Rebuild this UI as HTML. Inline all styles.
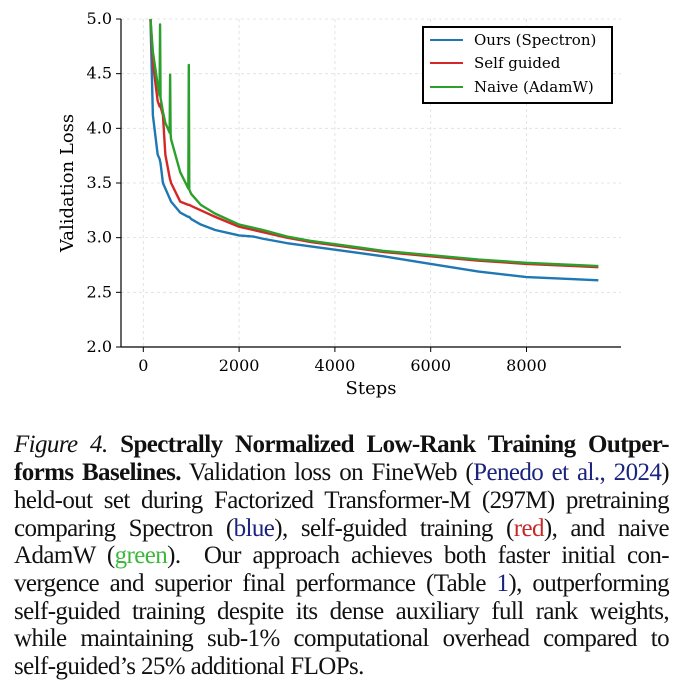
<!DOCTYPE html>
<html><head><meta charset="utf-8"><style>
body{margin:0;background:#fff;width:684px;height:686px;overflow:hidden;position:relative}
svg text{font-family:"DejaVu Serif",serif}
.cap{position:absolute;left:14px;width:655px;font-family:"Liberation Serif",serif;font-size:25px;letter-spacing:-0.6px;line-height:28px;text-align:justify;text-align-last:justify;white-space:nowrap;color:#111}
</style></head><body>
<svg width="684" height="410" style="position:absolute;left:0;top:0">
<g id="grid"></g><g id="series"></g><g id="axes"></g>
<g>
<rect x="423" y="27" width="189" height="76" fill="#fff" stroke="#000" stroke-width="2"/>
<line x1="430" y1="40" x2="463" y2="40" stroke="#1f77b4" stroke-width="2"/><text x="474" y="45" font-size="15">Ours (Spectron)</text>
<line x1="430" y1="63" x2="463" y2="63" stroke="#d62728" stroke-width="2"/><text x="474" y="68" font-size="15">Self guided</text>
<line x1="430" y1="87" x2="463" y2="87" stroke="#2ca02c" stroke-width="2"/><text x="474" y="92" font-size="15">Naive (AdamW)</text>
</g>
</svg>
<div class="cap" style="top:431px"><i>Figure 4.</i> <b>Spectrally Normalized Low-Rank Training Outper-</b></div>
<div class="cap" style="top:459px"><b>forms Baselines.</b> Validation loss on FineWeb (<span style="color:#1a237e">Penedo et al., 2024</span>)</div>
<div class="cap" style="top:487px">held-out set during Factorized Transformer-M (297M) pretraining</div>
<div class="cap" style="top:515px">comparing Spectron (<span style="color:#1a237e">blue</span>), self-guided training (<span style="color:#c62828">red</span>), and naive</div>
<div class="cap" style="top:542px">AdamW (<span style="color:#3cb83c">green</span>).&nbsp; Our approach achieves both faster initial con-</div>
<div class="cap" style="top:570px">vergence and superior final performance (Table <span style="color:#1a237e">1</span>), outperforming</div>
<div class="cap" style="top:598px">self-guided training despite its dense auxiliary full rank weights,</div>
<div class="cap" style="top:625px">while maintaining sub-1% computational overhead compared to</div>
<div class="cap" style="top:653px;text-align-last:left">self-guided’s 25% additional FLOPs.</div>
<script>
const steps=[150,200,300,340,350,360,410,460,550,560,570,580,770,940,950,960,1000,1200,1500,2000,2300,2500,3000,3500,4000,4500,5000,6000,7000,8000,9000,9500];
const blue=[5.0,4.12,3.76,3.72,3.7,3.68,3.5,3.45,3.36,3.35,3.34,3.33,3.23,3.19,3.19,3.19,3.17,3.12,3.07,3.02,3.01,2.99,2.95,2.92,2.89,2.86,2.83,2.76,2.69,2.64,2.62,2.61];
const red=[5.0,4.6,4.25,4.2,4.22,4.2,4.12,3.76,3.55,3.53,3.52,3.5,3.33,3.3,3.3,3.3,3.29,3.25,3.19,3.1,3.07,3.05,3.0,2.96,2.93,2.9,2.87,2.83,2.79,2.76,2.74,2.73];
const green=[5.0,4.7,4.4,4.3,4.95,4.28,4.15,4.05,3.96,4.49,3.95,3.9,3.6,3.45,4.58,3.44,3.4,3.3,3.22,3.12,3.09,3.07,3.01,2.97,2.94,2.91,2.88,2.84,2.8,2.77,2.75,2.74];
const xTicks=[0,2000,4000,6000,8000];
const yTicks=[2.0,2.5,3.0,3.5,4.0,4.5,5.0];
const X=s=>143.3+s*0.0479, Y=v=>19+(5-v)*109.33;
const ns="http://www.w3.org/2000/svg";
function mk(p,t,a){const e=document.createElementNS(ns,t);for(const k in a)e.setAttribute(k,a[k]);p.appendChild(e);return e;}
const g=document.getElementById('grid'),ax=document.getElementById('axes'),se=document.getElementById('series');
xTicks.forEach(t=>{const l=mk(g,'line',{x1:X(t),x2:X(t),y1:19,y2:347,stroke:'#ddd','stroke-dasharray':'3,3','stroke-width':0.8});

mk(ax,'line',{x1:X(t),x2:X(t),y1:347,y2:352,stroke:'#000'});
const tx=mk(ax,'text',{x:X(t),y:371,'font-size':16,'text-anchor':'middle'});tx.textContent=t;
});
yTicks.forEach(t=>{const l=mk(g,'line',{x1:121,x2:621,y1:Y(t),y2:Y(t),stroke:'#ddd','stroke-dasharray':'3,3','stroke-width':0.8});

mk(ax,'line',{x1:116,x2:121,y1:Y(t),y2:Y(t),stroke:'#000'});
const tx=mk(ax,'text',{x:112,y:Y(t)+5,'font-size':16,'text-anchor':'end'});tx.textContent=t.toFixed(1);
});
mk(ax,'line',{x1:121,x2:121,y1:19,y2:347,stroke:'#000','stroke-width':1.2});
mk(ax,'line',{x1:121,x2:621,y1:347,y2:347,stroke:'#000','stroke-width':1.2});
const xl=mk(ax,'text',{x:371,y:394,'font-size':18,'text-anchor':'middle'});xl.textContent='Steps';

const yl=mk(ax,'text',{x:0,y:0,'font-size':18,'text-anchor':'middle',transform:'translate(73,183) rotate(-90)'});yl.textContent='Validation Loss';

[[blue,'#1f77b4','series-spectron'],[red,'#d62728','series-self-guided'],[green,'#2ca02c','series-naive-adamw']].forEach(([d,c,n])=>{
const p=mk(se,'polyline',{points:steps.map((s,i)=>X(s)+','+Y(d[i])).join(' '),fill:'none',stroke:c,'stroke-width':2.4,'stroke-linejoin':'round'});
});
</script>
</body></html>
